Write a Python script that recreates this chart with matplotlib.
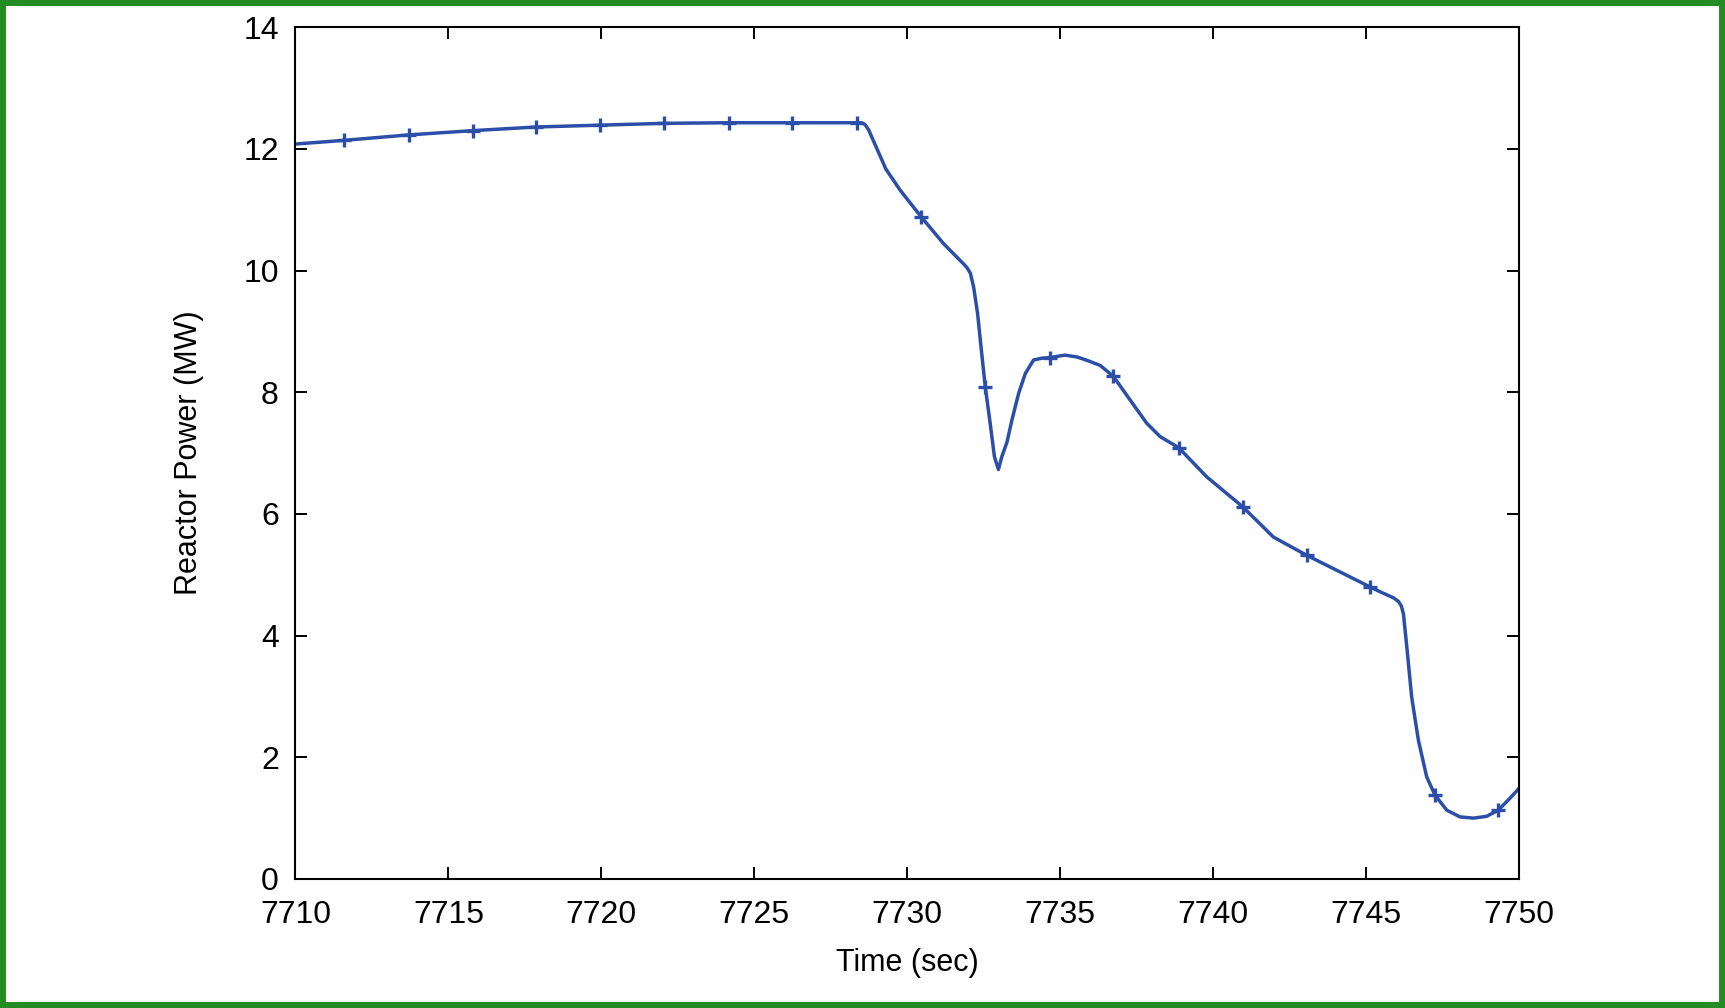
import matplotlib
matplotlib.use("Agg")
import matplotlib.pyplot as plt
from matplotlib.patches import Rectangle

# reactor power trace
time = [7710.0, 7711.58, 7713.70, 7715.79, 7717.87, 7719.96, 7722.04, 7724.16,
        7726.24, 7728.36, 7728.50, 7728.62, 7728.74, 7729.01, 7729.30, 7729.77, 7730.46,
        7731.19, 7731.84, 7731.95, 7732.06, 7732.17, 7732.30, 7732.41, 7732.55,
        7732.71, 7732.85, 7732.98, 7733.09, 7733.26, 7733.42, 7733.64, 7733.86,
        7734.13, 7734.40, 7734.67, 7734.90, 7735.16, 7735.55, 7735.90, 7736.31,
        7736.74, 7737.29, 7737.83, 7738.27, 7738.87, 7739.79, 7740.96, 7741.97,
        7743.06, 7745.13, 7745.46, 7745.90, 7746.06, 7746.15, 7746.22, 7746.33,
        7746.49, 7746.71, 7746.98, 7747.25, 7747.64, 7748.07, 7748.51, 7748.94,
        7749.32, 7749.71, 7750.0]
power = [12.08, 12.14, 12.23, 12.30, 12.36, 12.39, 12.42, 12.43,
         12.43, 12.43, 12.43, 12.40, 12.31, 12.00, 11.67, 11.32, 10.88,
         10.44, 10.11, 10.05, 9.96, 9.73, 9.29, 8.75, 8.09,
         7.49, 6.94, 6.73, 6.94, 7.18, 7.54, 7.98, 8.31,
         8.53, 8.56, 8.57, 8.59, 8.61, 8.58, 8.52, 8.44,
         8.26, 7.87, 7.49, 7.27, 7.09, 6.61, 6.12, 5.62,
         5.32, 4.80, 4.72, 4.62, 4.56, 4.49, 4.36, 3.82,
         2.99, 2.28, 1.68, 1.38, 1.13, 1.02, 1.00, 1.03,
         1.13, 1.33, 1.49]

# point markers (every ~2.1 s)
mark_t = [7711.58, 7713.70, 7715.79, 7717.87, 7719.96, 7722.04, 7724.16, 7726.24,
          7728.36, 7730.46, 7732.55, 7734.67, 7736.74, 7738.87, 7740.96, 7743.06,
          7745.13, 7747.25, 7749.32]
mark_p = [12.14, 12.23, 12.30, 12.36, 12.39, 12.42, 12.43, 12.43,
          12.43, 10.88, 8.09, 8.57, 8.26, 7.09, 6.12, 5.32,
          4.80, 1.38, 1.13]

xticks = [7710, 7715, 7720, 7725, 7730, 7735, 7740, 7745, 7750]
yticks = [0, 2, 4, 6, 8, 10, 12, 14]

plt.rcParams["font.family"] = ["Liberation Sans", "DejaVu Sans"]
col = "#2b4fa8"

fig = plt.figure(figsize=(17.25, 10.08), dpi=100)
ax = fig.add_axes([0.1713, 0.128, 0.7093, 0.845])

ax.plot(time, power, color=col, lw=2.5, solid_joinstyle="round")
ax.plot(mark_t, mark_p, ls="none", marker="+", color=col, ms=10, mew=2.4)

ax.set_xlim(7710, 7750)
ax.set_ylim(0, 14)
ax.set_xticks(xticks)
ax.set_yticks(yticks)
ax.tick_params(direction="in", length=8.5, width=1.4, labelsize=23, pad=12,
               top=True, right=True)
ax.tick_params(axis="x", pad=15)
for s in ax.spines.values():
    s.set_linewidth(1.5)

ax.set_xlabel("Time (sec)", fontsize=22, labelpad=13)
ax.set_ylabel("Reactor Power (MW)", fontsize=22, labelpad=28)

# green frame round the whole picture
fig.patches.append(Rectangle((0, 0), 1, 1, transform=fig.transFigure, fill=False,
                             edgecolor="#228b22", lw=8.6))

fig.savefig("out.png", dpi=100)
